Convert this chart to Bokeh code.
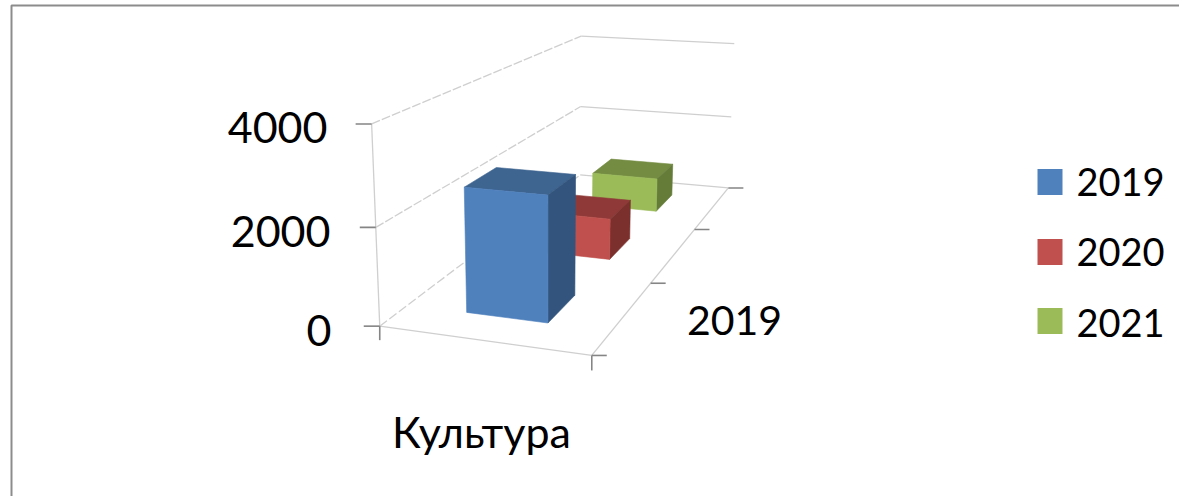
import numpy as np
from bokeh.plotting import figure
from bokeh.models import ColumnDataSource, Range1d
from bokeh.core.properties import value
from bokeh.embed import file_html
from bokeh.resources import INLINE

categories = ["Культура"]
series_names = ["2019", "2020", "2021"]
series_values = [2590, 950, 860]
depth_label = "2019"
y_ticks = [0, 2000, 4000]
y_labels = ["0", "2000", "4000"]
y_max = 4000

W, H = 1179, 496
FONT = value("Lato")
front = ["#4F81BD", "#C0504D", "#9BBB59"]
top = ["#3E6490", "#8F3A38", "#738C42"]
side = ["#33557D", "#7C302E", "#657C39"]
GRID = "#cfcfcf"
TICK = "#858585"

# camera calibration: 3D plot box (u, v, w) -> page pixel
calib = [
    ((0, 0, 0), (378, 325)), ((1, 0, 0), (592, 355)), ((0, 1, 0), (581, 174)), ((1, 1, 0), (726, 188)),
    ((0, 0, .5), (375, 227)), ((0, 0, 1), (372, 124)), ((0, 1, .5), (580, 107)), ((0, 1, 1), (580, 35)),
    ((1, 1, .5), (733, 116)), ((1, 1, 1), (733, 43)),
]
A, b = [], []
for (u, v, w), (x, y) in calib:
    A.append([u, v, w, 1, 0, 0, 0, 0, -x * u, -x * v, -x * w]); b.append(x)
    A.append([0, 0, 0, 0, u, v, w, 1, -y * u, -y * v, -y * w]); b.append(y)
m = np.linalg.lstsq(np.array(A, float), np.array(b, float), rcond=None)[0]
P = np.array([m[:4], m[4:8], [m[8], m[9], m[10], 1.0]])


def proj(u, v, val):
    q = P @ np.array([u, v, val / y_max, 1.0])
    return q[0] / q[2], q[1] / q[2]


p = figure(width=W, height=H, x_range=Range1d(0, W), y_range=Range1d(H, 0),
           output_backend="svg", toolbar_location=None, min_border=0,
           outline_line_color=None, background_fill_color="white",
           styles={"position": "absolute", "left": "0", "top": "0"})
p.xaxis.visible = False
p.yaxis.visible = False
p.grid.visible = False

# outer chart frame
p.line([11, 11, W], [H, 5, 5], line_color="#8c8c8c", line_width=2)


def seg(a, c, color=GRID, width=1.3, dash="solid"):
    x0, y0 = a
    x1, y1 = c
    p.line([x0, x1], [y0, y1], line_color=color, line_width=width, line_dash=dash)


# walls and floor
for t in y_ticks[1:]:
    seg(proj(0, 0, t), proj(0, 1, t), dash="9 2")
    seg(proj(0, 1, t), proj(1, 1, t))
seg(proj(0, 0, 0), proj(0, 1, 0), dash="9 3")
seg(proj(0, 1, 0), proj(1, 1, 0))
seg(proj(0, 0, 0), proj(1, 0, 0))
seg(proj(1, 0, 0), proj(1, 1, 0))
seg(proj(0, 0, 0), proj(0, 0, y_max))

# tick marks
for t in y_ticks:
    x, y = proj(0, 0, t)
    seg((x - 16, y), (x, y), TICK, 1.6)
x, y = proj(0, 0, 0)
seg((x, y), (x, y + 14), TICK, 1.6)
x, y = proj(1, 0, 0)
seg((x, y), (x, y + 15), TICK, 1.6)
for k in range(len(series_names) + 1):
    x, y = proj(1, k / len(series_names), 0)
    seg((x, y), (x + 15, y), TICK, 1.6)

# bars, back to front
n = len(series_names)
gap = 1.5
u0, u1 = (gap / 2) / (1 + gap), (1 + gap / 2) / (1 + gap)
xs, ys, cols = [], [], []
for i in reversed(range(n)):
    v0 = (i + (gap / 2) / (1 + gap)) / n
    v1 = (i + (1 + gap / 2) / (1 + gap)) / n
    h = series_values[i]
    faces = [
        ([(u0, v0, h), (u1, v0, h), (u1, v1, h), (u0, v1, h)], top[i]),
        ([(u1, v0, 0), (u1, v1, 0), (u1, v1, h), (u1, v0, h)], side[i]),
        ([(u0, v0, 0), (u1, v0, 0), (u1, v0, h), (u0, v0, h)], front[i]),
    ]
    for pts, col in faces:
        q = [proj(*c) for c in pts]
        xs.append([a[0] for a in q])
        ys.append([a[1] for a in q])
        cols.append(col)
src = ColumnDataSource(dict(xs=xs, ys=ys, c=cols))
p.patches("xs", "ys", source=src, fill_color="c", line_color="c", line_width=0.6)


def label(x, y, s, size, align="left"):
    p.text([x], [y], text=[s], text_font=FONT, text_font_size=f"{size}px",
           text_align=align, text_baseline="middle", text_color="black")


# value axis labels
for t, s, rx in zip(y_ticks, y_labels, (331, 330, 327)):
    x, y = proj(0, 0, t)
    label(rx, y + 4, s, 43, "right")

label(481, 431, categories[0], 43, "center")
label(734, 320, depth_label, 41, "center")

# legend
for name, col, yc, ty in zip(series_names, front, (182, 252, 321), (181, 251, 322)):
    p.rect([1049.5], [yc - 0.5], width=25, height=26, fill_color=col, line_color=None)
    label(1076, ty, name, 38)

open("out.html", "w").write(file_html(p, INLINE))
